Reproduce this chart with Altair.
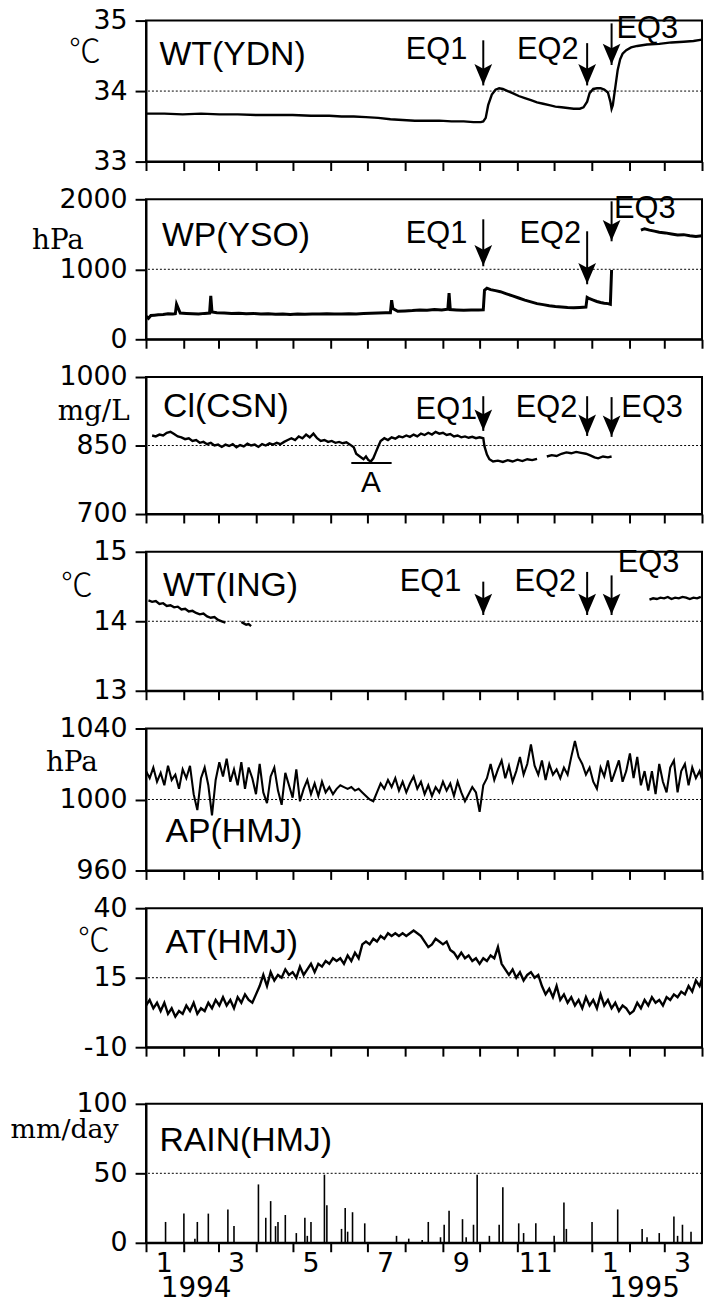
import altair as alt
import pandas as pd

# ---------------- data (x = day index counted from 1994-01-01) ----------------
EQ_DATES = ["1994-10-04", "1994-12-28", "1995-01-17"]
EQ_NAMES = ["EQ1", "EQ2", "EQ3"]

# WT(YDN) water temperature, degC
wt_ydn_day = [0, 15, 30, 45, 60, 75, 90, 105, 120, 135, 150, 160, 170, 180, 190, 200, 210, 220, 230, 240,
              250, 260, 268, 274, 276, 278, 280, 283, 286, 289, 292, 296, 300, 305, 310, 315, 320, 325, 330, 335,
              340, 345, 350, 355, 358, 361, 363, 366, 369, 372, 375, 378, 380, 381, 382, 384, 386, 388, 390, 393,
              397, 402, 410, 420, 430, 440, 448, 455]
wt_ydn_val = [33.68, 33.68, 33.67, 33.68, 33.67, 33.67, 33.66, 33.66, 33.66, 33.65,
              33.65, 33.64, 33.64, 33.63, 33.62, 33.60, 33.59, 33.58, 33.58, 33.58,
              33.57, 33.57, 33.56, 33.56, 33.57, 33.62, 33.80, 33.95, 34.02, 34.04,
              34.03, 34.00, 33.97, 33.93, 33.90, 33.87, 33.84, 33.82, 33.80, 33.78,
              33.77, 33.76, 33.75, 33.75, 33.77, 33.85, 33.97, 34.03, 34.04, 34.04,
              34.02, 33.98, 33.85, 33.75, 33.80, 34.05, 34.30, 34.45, 34.53, 34.58,
              34.62, 34.64, 34.66, 34.67, 34.69, 34.70, 34.71, 34.73]

# WP(YSO) water pressure, hPa
wp_yso_day = [0, 2, 4, 7, 10, 14, 18, 22, 24, 25, 28, 33, 38, 43, 48, 52, 53, 54, 58, 64,
              70, 76, 82, 88, 94, 100, 106, 112, 118, 124, 130, 136, 142, 148, 154, 160, 166, 172, 178, 184,
              190, 196, 200, 201, 202, 206, 212, 218, 224, 230, 236, 242, 247, 248, 249, 254, 260, 266, 272, 276,
              277, 279, 282, 286, 290, 295, 300, 305, 310, 315, 320, 325, 330, 335, 340, 345, 350, 355, 360, 361,
              363, 366, 369, 372, 375, 378, 380, 381, 405, 408, 412, 416, 420, 425, 430, 435, 440, 445, 450, 455]
wp_yso_val = [330, 300, 340, 345, 350, 355, 365, 360, 365, 500, 375, 370, 365, 360, 370, 375, 620, 390, 380, 375,
              370, 372, 365, 370, 360, 365, 358, 362, 355, 360, 358, 362, 360, 365, 360, 362, 365, 360, 368, 372,
              375, 378, 380, 560, 440, 400, 405, 410, 420, 415, 425, 420, 430, 660, 425, 420, 415, 420, 418, 420,
              700, 730, 710, 695, 680, 650, 620, 590, 560, 535, 510, 495, 480, 470, 462, 455, 450, 455, 460, 600,
              580, 560, 540, 525, 515, 510, 500, 990, 1560, 1580, 1560, 1545, 1530, 1520, 1505, 1490, 1495, 1480, 1470, 1480]

# Cl(CSN) chloride, mg/L
cl_csn_day = (list(range(5, 171, 3))
              + [172, 175, 178, 180, 182, 184, 186, 188, 190, 192, 195, 198]
              + list(range(201, 277, 3))
              + [277, 279, 281, 284, 288, 292, 296, 300, 304, 308, 312, 316, 320]
              + list(range(328, 361, 4))
              + [364, 367, 370, 374, 378, 381])
cl_csn_val = [872, 870, 874, 872, 878, 880, 875, 870, 868, 864, 866, 860, 862, 856, 858, 853, 856, 850, 852, 847,
              852, 849, 853, 846, 851, 848, 854, 850, 852, 847, 853, 850, 855, 852, 856, 853, 858, 862, 866, 862,
              870, 866, 874, 868, 876, 866, 860, 862, 858, 860, 856, 858, 855, 857, 852, 846,
              832, 826, 820, 826, 818, 815, 822, 835, 848, 860, 866, 862,
              868, 865, 870, 868, 872, 869, 874, 870, 876, 873, 878, 874, 880, 876, 878, 873, 875, 870, 872, 868,
              870, 867, 869, 866, 868, 866,
              848, 830, 820, 815, 817, 814, 818, 815, 819, 816, 820, 818, 821,
              826, 829, 827, 832, 835, 833, 836, 834, 832,
              828, 824, 822, 826, 824, 826]

# WT(ING) water temperature, degC
wt_ing_day = list(range(2, 68, 3)) + [78, 80, 82, 84, 86] + list(range(412, 456, 3))
wt_ing_val = [14.30, 14.28, 14.29, 14.25, 14.26, 14.22, 14.23, 14.20, 14.21, 14.17, 14.18, 14.14, 14.15,
              14.12, 14.10, 14.11, 14.07, 14.05, 14.06, 14.02, 14.00, 13.98,
              13.99, 13.97, 13.95, 13.96, 13.93,
              14.31, 14.33, 14.32, 14.34, 14.33, 14.35, 14.32, 14.34, 14.33, 14.35, 14.34, 14.32, 14.34, 14.33, 14.35]

# AP(HMJ) air pressure, hPa (every 3 days)
ap_hmj_day = list(range(0, 457, 3))
ap_hmj_val = [1016, 1012, 1018, 1010, 1015, 1008, 1019, 1011, 1014, 1006, 1017, 1012, 1019, 1003, 994, 1012,
              1018, 1008, 991, 1011, 1021, 1013, 1023, 1010, 1017, 1008, 1021, 1006, 1018, 1012, 1003, 1020,
              1004, 998, 1013, 1018, 1005, 997, 1015, 1008, 1001, 1017, 999, 1006, 1011, 1003, 1009, 1002,
              1010, 1004, 1007, 1003, 1006, 1008, 1007, 1006, 1007, 1005, 1006, 1004, 1002, 1000, 999, 1004,
              1009, 1006, 1011, 1007, 1012, 1005, 1010, 1004, 1009, 1013, 1006, 1010, 1003, 1008, 1002, 1007,
              1004, 1010, 1005, 1009, 1002, 1010, 1004, 999, 1003, 1007, 1004, 993, 1008, 1012, 1020, 1011,
              1017, 1022, 1012, 1019, 1010, 1016, 1024, 1014, 1020, 1031, 1019, 1014, 1022, 1011, 1020, 1014,
              1017, 1012, 1018, 1014, 1024, 1033, 1024, 1020, 1014, 1018, 1010, 1006, 1018, 1013, 1022, 1010,
              1016, 1022, 1010, 1016, 1026, 1012, 1024, 1008, 1016, 1005, 1016, 1003, 1020, 1010, 1004, 1018,
              1022, 1004, 1016, 1020, 1008, 1018, 1012, 1016, 1009]

# AT(HMJ) air temperature, degC (every 3 days)
at_hmj_day = list(range(0, 457, 3))
at_hmj_val = [5, 7, 4, 6, 3, 6, 2, 4, 1, 3, 2, 5, 3, 6, 2, 4, 3, 6, 4, 7, 5, 8, 5, 7, 4, 8, 6, 9, 7, 6,
              9, 12, 16, 12, 17, 14, 16, 15, 18, 16, 17, 15, 19, 16, 18, 20, 17, 20, 19, 21, 20, 22, 21, 22,
              20, 23, 21, 24, 22, 27, 28, 27, 29, 28, 30, 29, 31, 30, 31, 30, 31, 30, 31, 32, 31, 30, 28, 26,
              27, 29, 28, 27, 28, 25, 24, 22, 24, 22, 23, 21, 22, 20, 22, 21, 23, 22, 26, 20, 18, 16, 18, 15,
              17, 14, 16, 17, 15, 16, 12, 9, 11, 8, 12, 7, 9, 6, 8, 5, 7, 4, 8, 5, 7, 4, 9, 5, 7, 4,
              6, 3, 5, 4, 2, 3, 6, 4, 7, 5, 8, 6, 7, 5, 8, 7, 9, 8, 10, 9, 12, 10, 14, 12, 16]

# RAIN(HMJ) daily rainfall, mm/day
rain_day = [16, 31, 40, 42, 51, 67, 72, 92, 98, 102, 106, 108, 114, 123, 130, 132, 135, 146, 148, 160,
            163, 165, 169, 179, 205, 215, 226, 231, 241, 244, 248, 259, 262, 268, 271, 281, 289, 292, 305, 309,
            319, 334, 342, 344, 365, 386, 406, 410, 420, 432, 435, 439, 446]
rain_val = [15, 21, 3, 15, 21, 24, 12, 42, 18, 30, 12, 15, 20, 7, 18, 5, 15, 49, 27, 10,
            25, 8, 22, 14, 5, 3, 2, 15, 4, 13, 23, 17, 4, 13, 49, 5, 13, 40, 14, 7,
            14, 5, 29, 10, 15, 24, 10, 4, 7, 19, 5, 13, 8]

YEAR_LABELS = ["1994", "1995"]
YEAR_DATES = ["1994-02-11", "1995-02-13"]

# ---------------- helpers ----------------
T0 = pd.Timestamp("1994-01-01")
W = 560
SANS = "Liberation Sans"
NUMF = "DejaVu Sans"
SERIF = "DejaVu Serif"
CJK = "Noto Sans CJK JP"
ARROW = "M0,1L-0.85,-1L0,-0.55L0.85,-1Z"


def to_date(day):
    return (T0 + pd.Timedelta(days=day)).strftime("%Y-%m-%d")


def series_df(days, vals, gap=20):
    rows, seg = [], 0
    for i, (dd, v) in enumerate(zip(days, vals)):
        if i > 0 and dd - days[i - 1] > gap:
            seg += 1
        rows.append({"date": to_date(dd), "v": v, "seg": seg})
    return pd.DataFrame(rows)


XSCALE = alt.Scale(type="utc",
                   domain=[alt.DateTime(year=1994, month=1, date=1, utc=True),
                           alt.DateTime(year=1995, month=4, date=1, utc=True)])
TICKS = [alt.DateTime(year=1994 + (m // 12), month=(m % 12) + 1, date=1, utc=True) for m in range(16)]
TICKS_LAB = TICKS[:15]   # last (1 Apr 1995) coincides with the frame corner

XAXIS = alt.Axis(values=TICKS, labels=False, ticks=True, tickSize=9, title=None, grid=False)
XAXIS_LAB = alt.Axis(values=TICKS_LAB, labels=True, ticks=True, tickSize=9, title=None, grid=False,
                     labelExpr="utcmonth(datum.value) % 2 == 0 ? '' + (utcmonth(datum.value) + 1) : ''",
                     labelOffset=18, labelFontSize=27, labelFont=NUMF, labelPadding=-1,
                     labelFlush=False, labelOverlap=False, labelAlign="center", labelBaseline="top")


def panel(ymin, ymid, ymax, height, unit, unit_x, unit_y, label, label_day, label_val,
          line=None, line_w=2.4, eq=None, rain=None, bottom=False, extra=None,
          unit_size=28, unit_font=SERIF, unit_weight="normal", title=None):
    yscale = alt.Scale(domain=[ymin, ymax], nice=False, zero=False)
    yaxis = alt.Axis(values=[ymin, ymid, ymax], labelExpr="'' + datum.value", tickSize=11,
                     labelFontSize=27, labelFont=NUMF, labelPadding=8, grid=False,
                     title=unit, titleAngle=0, titleX=unit_x, titleY=unit_y, titleAlign="right",
                     titleBaseline="middle", titleFont=unit_font, titleFontSize=unit_size,
                     titleFontWeight=unit_weight, titleColor="black")
    Y = alt.Y("v:Q", scale=yscale, axis=yaxis)
    X = alt.X("date:T", scale=XSCALE, axis=XAXIS_LAB if bottom else XAXIS)

    layers = []
    grid = alt.Chart(pd.DataFrame({"v": [ymid]})).mark_rule(
        color="black", strokeWidth=1, strokeDash=[2, 2]).encode(y=Y)
    layers.append(grid)
    if line is not None:
        layers.append(alt.Chart(line).mark_line(color="black", strokeWidth=line_w, clip=True)
                      .encode(x=X, y=Y, detail="seg:N"))
    if rain is not None:
        layers.append(alt.Chart(rain).mark_rule(color="black", strokeWidth=1.6)
                      .encode(x=X, y=Y, y2=alt.datum(0)))
    lab = pd.DataFrame({"date": [to_date(label_day)], "v": [label_val], "t": [label]})
    layers.append(alt.Chart(lab).mark_text(align="left", baseline="alphabetic", font=SANS,
                                           fontSize=34, color="black")
                  .encode(x=X, y=Y, text="t:N"))
    if eq is not None:
        tops, tips, tdates, tvals, aligns = eq
        arr = pd.DataFrame({"date": EQ_DATES, "v": tops, "v2": tips})
        layers.append(alt.Chart(arr).mark_rule(color="black", strokeWidth=2)
                      .encode(x=X, y=Y, y2="v2:Q"))
        head = pd.DataFrame({"date": EQ_DATES, "v": tips})
        layers.append(alt.Chart(head).mark_point(shape=ARROW, size=440, filled=True, color="black",
                                                 opacity=1, yOffset=-11)
                      .encode(x=X, y=Y))
        for name, dd, vv, al in zip(EQ_NAMES, tdates, tvals, aligns):
            t = pd.DataFrame({"date": [dd], "v": [vv], "t": [name]})
            layers.append(alt.Chart(t).mark_text(align=al, baseline="alphabetic", font=SANS,
                                                 fontSize=31, color="black")
                          .encode(x=X, y=Y, text="t:N"))
    if extra is not None:
        layers.extend(extra(X, Y))
    props = dict(width=W, height=height)
    if title is not None:
        props["title"] = title
    return alt.layer(*layers).properties(**props)


# ---------------- panels ----------------
p1 = panel(33, 34, 35, 142, "℃", -46, 31, "WT(YDN)", 11, 34.37,
           line=series_df(wt_ydn_day, wt_ydn_val), line_w=2.4,
           eq=([34.72, 34.68, 34.96], [34.08, 34.08, 34.37],
               ["1994-09-21", "1994-12-21", "1995-01-21"], [34.46, 34.46, 34.75],
               ["right", "right", "left"]),
           unit_size=32, unit_font=CJK, unit_weight=300)

p2 = panel(0, 1000, 2000, 141, "hPa", -63, 42, "WP(YSO)", 13, 1328,
           line=series_df(wp_yso_day, wp_yso_val, gap=10), line_w=3.0,
           eq=([1714, 1543, 1971], [1043, 786, 1400],
               ["1994-09-21", "1994-12-23", "1995-01-19"], [1371, 1371, 1729],
               ["right", "right", "left"]))


def a_mark(X, Y):
    bar = pd.DataFrame({"date": [to_date(168)], "date2": [to_date(201)], "v": [812]})
    txt = pd.DataFrame({"date": [to_date(184)], "v": [748], "t": ["A"]})
    return [
        alt.Chart(bar).mark_rule(color="black", strokeWidth=2).encode(x=X, x2="date2:T", y=Y),
        alt.Chart(txt).mark_text(align="center", baseline="alphabetic", font=SANS, fontSize=30,
                                 color="black").encode(x=X, y=Y, text="t:N"),
    ]


p3 = panel(700, 850, 1000, 138, "mg/L", -17, 35, "Cl(CSN)", 14, 912,
           line=series_df(cl_csn_day, cl_csn_val, gap=6), line_w=2.4,
           eq=([958, 958, 956], [882, 871, 869],
               ["1994-09-29", "1994-12-20", "1995-01-25"], [908, 912, 912],
               ["right", "right", "left"]), extra=a_mark)

p4 = panel(13, 14, 15, 140, "℃", -54, 34, "WT(ING)", 14, 14.36,
           line=series_df(wt_ing_day, wt_ing_val, gap=8), line_w=2.4,
           eq=([14.57, 14.71, 14.66], [14.09, 14.09, 14.09],
               ["1994-09-16", "1994-12-19", "1995-01-22"], [14.44, 14.44, 14.71],
               ["right", "right", "left"]),
           unit_size=32, unit_font=CJK, unit_weight=300)

p5 = panel(960, 1000, 1040, 143, "hPa", -49, 34, "AP(HMJ)", 16, 975.8,
           line=series_df(ap_hmj_day, ap_hmj_val), line_w=2.1)

p6 = panel(-10, 15, 40, 140, "℃", -37, 33, "AT(HMJ)", 16, 23.8,
           line=series_df(at_hmj_day, at_hmj_val), line_w=2.4,
           unit_size=32, unit_font=CJK, unit_weight=300)


def years(X, Y):
    yr = pd.DataFrame({"date": YEAR_DATES, "v": [-39, -39], "t": YEAR_LABELS})
    return [alt.Chart(yr).mark_text(align="center", baseline="alphabetic", font=NUMF, fontSize=28,
                                    color="black").encode(x=X, y=Y, text="t:N")]


rain_df = pd.DataFrame({"date": [to_date(d) for d in rain_day], "v": rain_val})
p7 = panel(0, 50, 100, 140, "mm/day", -28, 26, "RAIN(HMJ)", 11, 66.4,
           rain=rain_df, bottom=True, extra=years, unit_size=27,
           title=alt.TitleParams(text=" ", fontSize=10, offset=9))

chart = alt.vconcat(p1, p2, p3, p4, p5, p6, p7, spacing=9, bounds="full").properties(
    padding={"left": 1, "top": -7, "right": 0, "bottom": 0}
).configure_view(stroke="black", strokeWidth=2).configure_axis(
    domainColor="black", domainWidth=2, tickColor="black", tickWidth=2,
    labelColor="black", grid=False
)

chart.save("out.html", embed_options={"renderer": "svg", "actions": False})
